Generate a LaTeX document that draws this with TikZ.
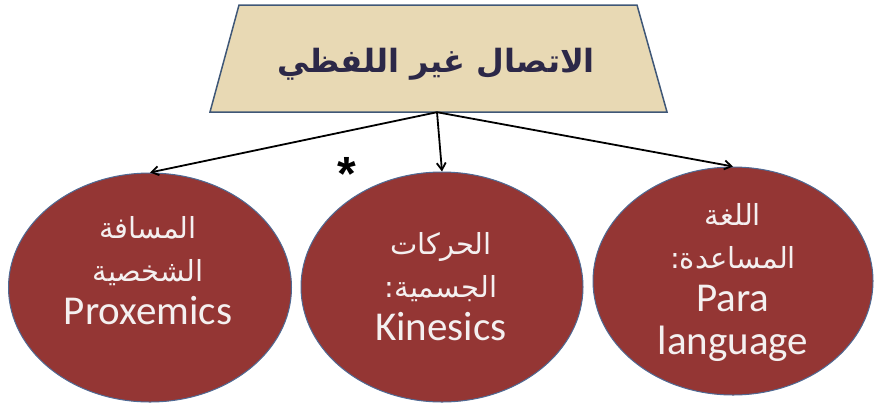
\documentclass[tikz,border=0pt]{standalone}
\usepackage{fontspec}
\setmainfont{Carlito}
\newfontfamily\arabicfont[Script=Arabic]{DejaVu Sans}
\newfontfamily\starfont{Liberation Sans}
\TeXXeTstate=1
\usetikzlibrary{shapes.geometric,arrows.meta,calc}
\definecolor{ovalred}{HTML}{943634}
\definecolor{ovalline}{HTML}{4F6A94}
\definecolor{parch}{HTML}{E8D9B4}
\definecolor{parchline}{HTML}{3F5777}
\definecolor{titleink}{HTML}{2C2848}
\definecolor{ovaltext}{HTML}{F4F0F0}
\tikzset{
  oval/.style={ellipse, draw=ovalline, line width=1pt, fill=ovalred, inner sep=0pt},
  ovaltxt/.style={text=ovaltext, align=center, inner sep=0pt, font=\fontsize{41}{43}\selectfont},
  titlebox/.style={rectangle, minimum width=457pt, minimum height=107pt, inner sep=0pt,
    text=titleink, font=\arabicfont\bfseries\fontsize{32}{38}\selectfont},
  trapline/.style={draw=parchline, line width=1.5pt, fill=parch, line join=miter},
  link/.style={-{Straight Barb[length=7pt,width=9pt,line width=1.8pt]}, line width=1.8pt, black},
}
\newcommand{\ar}[1]{{\arabicfont\fontsize{29}{42}\selectfont\beginR #1\endR}}
\begin{document}
\begin{tikzpicture}[x=1pt,y=-1pt]
\useasboundingbox (0,0) rectangle (874,405);
\coordinate (tl) at (239,5);
\coordinate (tr) at (637,5);
\coordinate (br) at (667,112);
\coordinate (bl) at (210,112);
\path[trapline] (tl) -- (tr) -- (br) -- (bl) -- cycle;
\node[titlebox] (title) at (437,58.5) {};
\node[titlebox] (titletext) at (436,64) {\beginR الاتصال غير اللفظي\endR};
\node[oval, minimum width=283pt, minimum height=229pt] (prox) at (150,287.5) {};
\node[oval, minimum width=282pt, minimum height=230pt] (kin) at (442,287) {};
\node[oval, minimum width=280pt, minimum height=228pt] (para) at (733,281) {};
\node[ovaltxt] (proxtext) at (148,271) {\ar{المسافة}\\\ar{الشخصية}\\Proxemics};
\node[ovaltxt] (kintext) at (441,287) {\ar{الحركات}\\\ar{الجسمية:}\\Kinesics};
\node[ovaltxt] (paratext) at (733,282) {\ar{اللغة}\\\ar{المساعدة:}\\Para\\language};
\node[anchor=base, inner sep=0pt, font=\starfont\bfseries\fontsize{48}{50}\selectfont] (star) at (347,190) {*};
\draw[link] (title.south) -- (prox.north);
\draw[link] (title.south) -- (kin.north);
\draw[link] (title.south) -- (para.north);
\end{tikzpicture}
\end{document}
